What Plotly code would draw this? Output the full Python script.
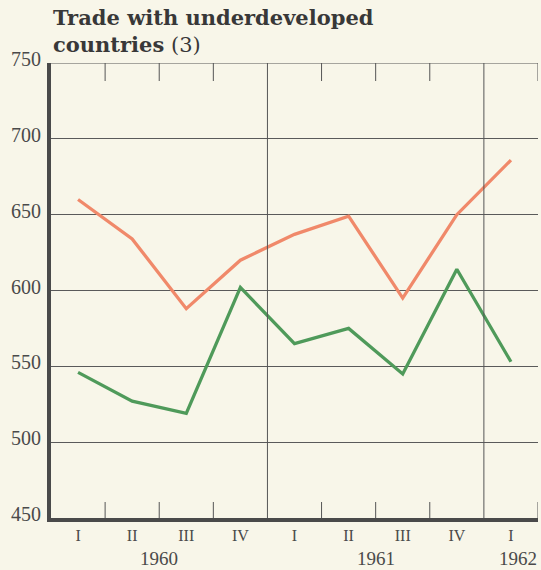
import plotly.graph_objects as go

quarters = ["I", "II", "III", "IV", "I", "II", "III", "IV", "I"]
years = ["1960", "1961", "1962"]
year_pos = [1.5, 5.5, 8.13]
orange_vals = [660, 634, 588, 620, 637, 649, 595, 650, 686]
green_vals = [546, 527, 519, 602, 565, 575, 545, 614, 553]
y_ticks = [450, 500, 550, 600, 650, 700, 750]

x = list(range(len(quarters)))
BG = "#f8f6e9"
INK = "#4a4a4a"
SERIF = "Liberation Serif, Times New Roman, serif"

fig = go.Figure()
fig.add_trace(go.Scatter(x=x, y=orange_vals, mode="lines",
                         line=dict(color="#f0896a", width=3.3), showlegend=False))
fig.add_trace(go.Scatter(x=x, y=green_vals, mode="lines",
                         line=dict(color="#4f9a5a", width=3.3), showlegend=False))

shapes = []
shapes.append(dict(type="line", xref="x", yref="y", x0=-0.5, x1=8.5, y0=750, y1=750,
                   line=dict(color="#555", width=1.2)))
for xv in [3.5, 7.5]:
    shapes.append(dict(type="line", xref="x", yref="y", x0=xv, x1=xv, y0=450, y1=750,
                       line=dict(color="#555", width=1)))
for xv in [0.5, 1.5, 2.5, 4.5, 5.5, 6.5, 8.5]:
    shapes.append(dict(type="line", xref="x", yref="y",
                       ysizemode="pixel", yanchor=750, x0=xv, x1=xv, y0=0, y1=-18,
                       line=dict(color="#555", width=1)))
    shapes.append(dict(type="line", xref="x", yref="y",
                       ysizemode="pixel", yanchor=450, x0=xv, x1=xv, y0=0, y1=16,
                       line=dict(color="#555", width=1)))

annotations = []
for yv in y_ticks:
    annotations.append(dict(x=-0.5, y=yv, xref="x", yref="y", text=str(yv),
                            showarrow=False, xanchor="right", yanchor="middle",
                            xshift=-8, yshift=4,
                            font=dict(family=SERIF, size=20, color=INK)))
for yr, xp in zip(years, year_pos):
    annotations.append(dict(x=xp, y=0, xref="x", yref="paper", text=yr,
                            showarrow=False, xanchor="center", yanchor="top",
                            yshift=-28, font=dict(family=SERIF, size=19, color=INK)))
annotations.append(dict(x=0, y=1, xref="paper", yref="paper", xanchor="left",
                        yanchor="bottom", yshift=4, align="left", showarrow=False,
                        text="<b>Trade with underdeveloped</b><br><b>countries</b> (3)",
                        font=dict(family="DejaVu Serif, serif", size=21, color="#383838")))

fig.update_layout(
    width=541, height=570,
    margin=dict(l=51, r=3, t=63, b=52),
    paper_bgcolor=BG, plot_bgcolor=BG,
    shapes=shapes, annotations=annotations,
    xaxis=dict(range=[-0.5, 8.5], tickvals=x, ticktext=quarters, ticks="",
               showgrid=False, zeroline=False, showline=True, linewidth=4,
               linecolor="#4a4a4a", tickfont=dict(family=SERIF, size=16, color=INK),
               ticklabelstandoff=0),
    yaxis=dict(range=[450, 750], tickvals=y_ticks, showticklabels=False, ticks="",
               showgrid=True, gridcolor="#5a5a5a", gridwidth=1, zeroline=False,
               showline=True, linewidth=4, linecolor="#4a4a4a"),
)

fig.write_html("out.html", config={"displayModeBar": False},
               post_script="document.body.style.margin='0';document.body.style.background='%s';" % BG)
